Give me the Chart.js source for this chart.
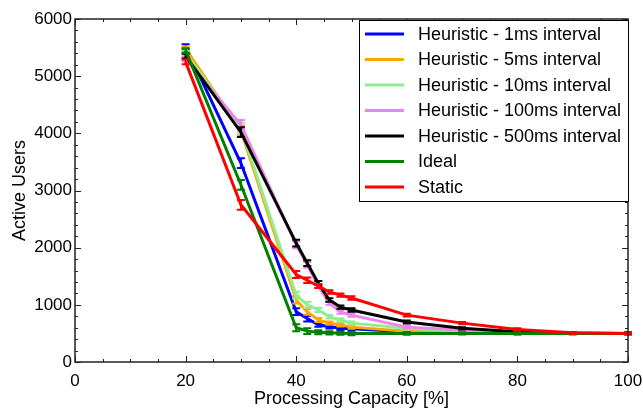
<!DOCTYPE html>
<html>
<head>
<meta charset="utf-8">
<script src="https://cdn.jsdelivr.net/npm/chart.js@4/dist/chart.umd.min.js"></script>
<style>
  html, body { margin: 0; padding: 0; background: #fff; }
  #wrap { width: 643px; height: 410px; }
</style>
</head>
<body>
<div id="wrap"><canvas id="c" width="643" height="410"></canvas></div>
<script>
"use strict";

// processing capacity [%]
var capacity = [20, 30, 40, 42, 44, 46, 48, 50, 60, 70, 80, 90, 100];

var heur1 = [5520, 3480, 880, 760, 650, 615, 590, 580, 530, 515, 505, 500, 500];
var heur5 = [5480, 4050, 1085, 875, 735, 680, 650, 610, 540, 520, 510, 500, 500];
var heur10 = [5400, 4100, 1170, 1000, 910, 790, 735, 680, 590, 540, 515, 505, 500];
var heur100 = [5300, 4150, 2050, 1700, 1330, 1030, 875, 820, 610, 560, 520, 505, 500];
var heur500 = [5350, 4020, 2080, 1730, 1380, 1085, 960, 910, 700, 590, 530, 505, 500];
var ideal = [5450, 3100, 600, 540, 520, 510, 505, 500, 500, 500, 500, 500, 500];
var statik = [5250, 2750, 1530, 1430, 1330, 1225, 1170, 1120, 820, 680, 570, 510, 500];

// +/- error per capacity point (shared by all series)
var errBars = [40, 85, 60, 50, 35, 30, 30, 30, 25, 20, 20, 15, 15];

var seriesNames = ["Heuristic - 1ms interval", "Heuristic - 5ms interval", "Heuristic - 10ms interval",
    "Heuristic - 100ms interval", "Heuristic - 500ms interval", "Ideal", "Static"];
var seriesValues = [heur1, heur5, heur10, heur100, heur500, ideal, statik];
var seriesColors = ["#0000ff", "#ffa500", "#90ee90", "#ee82ee", "#000000", "#008000", "#ff0000"];

var FONT = "'Liberation Sans', Arial, sans-serif";

function toPoints(vals) {
    var pts = [];
    for (var i = 0; i < capacity.length; i++) pts.push({ x: capacity[i], y: vals[i] });
    return pts;
}

var datasets = [];
for (var s = 0; s < seriesNames.length; s++) {
    datasets.push({
        label: seriesNames[s],
        data: toPoints(seriesValues[s]),
        borderColor: seriesColors[s],
        backgroundColor: seriesColors[s],
        borderWidth: 3,
        pointRadius: 0,
        tension: 0,
        fill: false,
        order: seriesNames.length - 1 - s   // later series drawn on top
    });
}

// error bars, drawn right after each line so stacking matches
var errorBarPlugin = {
    id: 'errorBars',
    afterDatasetDraw: function (chart, args) {
        var ctx = chart.ctx;
        var xs = chart.scales.x, ys = chart.scales.y;
        var ds = chart.data.datasets[args.index];
        ctx.save();
        ctx.strokeStyle = ds.borderColor;
        ctx.lineWidth = 2;
        for (var i = 0; i < ds.data.length; i++) {
            var px = xs.getPixelForValue(ds.data[i].x);
            var top = ys.getPixelForValue(ds.data[i].y + errBars[i]);
            var bot = ys.getPixelForValue(ds.data[i].y - errBars[i]);
            ctx.beginPath();
            ctx.moveTo(px, top); ctx.lineTo(px, bot);
            ctx.moveTo(px - 4, top); ctx.lineTo(px + 4, top);
            ctx.moveTo(px - 4, bot); ctx.lineTo(px + 4, bot);
            ctx.stroke();
        }
        ctx.restore();
    }
};

// frame with inward ticks on all four sides + boxed legend
var framePlugin = {
    id: 'frame',
    afterDraw: function (chart) {
        var ctx = chart.ctx, a = chart.chartArea;
        var xs = chart.scales.x, ys = chart.scales.y;
        ctx.save();
        ctx.strokeStyle = '#222';
        ctx.lineWidth = 1.5;
        ctx.strokeRect(a.left, a.top, a.right - a.left, a.bottom - a.top);
        ctx.lineWidth = 1;
        ctx.beginPath();
        for (var v = xs.min; v <= xs.max; v += 5) {
            var px = Math.round(xs.getPixelForValue(v)) + 0.5;
            var len = (v % 20 === 0) ? 6 : 3;
            ctx.moveTo(px, a.bottom); ctx.lineTo(px, a.bottom - len);
            ctx.moveTo(px, a.top); ctx.lineTo(px, a.top + len);
        }
        for (var w = ys.min; w <= ys.max; w += 200) {
            var py = Math.round(ys.getPixelForValue(w)) + 0.5;
            var l2 = (w % 1000 === 0) ? 6 : 3;
            ctx.moveTo(a.left, py); ctx.lineTo(a.left + l2, py);
            ctx.moveTo(a.right, py); ctx.lineTo(a.right - l2, py);
        }
        ctx.stroke();

        // legend box
        var bx = 359, by = 20, bw = 269, bh = 181;
        ctx.fillStyle = '#fff';
        ctx.fillRect(bx, by, bw, bh);
        ctx.strokeStyle = '#000';
        ctx.lineWidth = 1;
        ctx.strokeRect(bx + 0.5, by + 0.5, bw, bh);
        ctx.font = '18px ' + FONT;
        ctx.textBaseline = 'middle';
        for (var i = 0; i < chart.data.datasets.length; i++) {
            var ds = chart.data.datasets[i];
            var y = by + 14 + i * 25.5;
            ctx.strokeStyle = ds.borderColor;
            ctx.lineWidth = 3;
            ctx.beginPath();
            ctx.moveTo(bx + 6, y); ctx.lineTo(bx + 45, y);
            ctx.stroke();
            ctx.fillStyle = '#000';
            ctx.fillText(ds.label, bx + 59, y + 1);
        }
        ctx.restore();
    }
};

Chart.defaults.font.family = FONT;
Chart.defaults.color = '#000';

new Chart(document.getElementById('c').getContext('2d'), {
    type: 'line',
    data: { datasets: datasets },
    options: {
        responsive: false,
        animation: false,
        layout: { padding: { left: 0, right: 15, top: 19, bottom: 0 } },
        plugins: { legend: { display: false }, tooltip: { enabled: false } },
        scales: {
            x: {
                type: 'linear',
                min: 0, max: 100,
                grid: { display: false, drawTicks: false },
                border: { display: false },
                ticks: { stepSize: 20, maxRotation: 0, padding: 9, font: { size: 17 } },
                title: { display: true, text: 'Processing Capacity [%]', font: { size: 18 }, padding: { top: 0, bottom: 0 } },
                afterFit: function (scale) {
                    scale.height = 48;
                    scale.paddingLeft = 0;
                    scale.paddingRight = 0;
                }
            },
            y: {
                min: 0, max: 6000,
                grid: { display: false, drawTicks: false },
                border: { display: false },
                ticks: {
                    stepSize: 1000, padding: 3, font: { size: 17 },
                    callback: function (v) { return String(v); }
                },
                title: { display: true, text: 'Active Users', font: { size: 18 }, padding: { top: 9, bottom: 0 } },
                afterFit: function (scale) {
                    scale.width = 75;
                    scale.paddingTop = 0;
                    scale.paddingBottom = 0;
                }
            }
        }
    },
    plugins: [errorBarPlugin, framePlugin]
});
</script>
</body>
</html>
